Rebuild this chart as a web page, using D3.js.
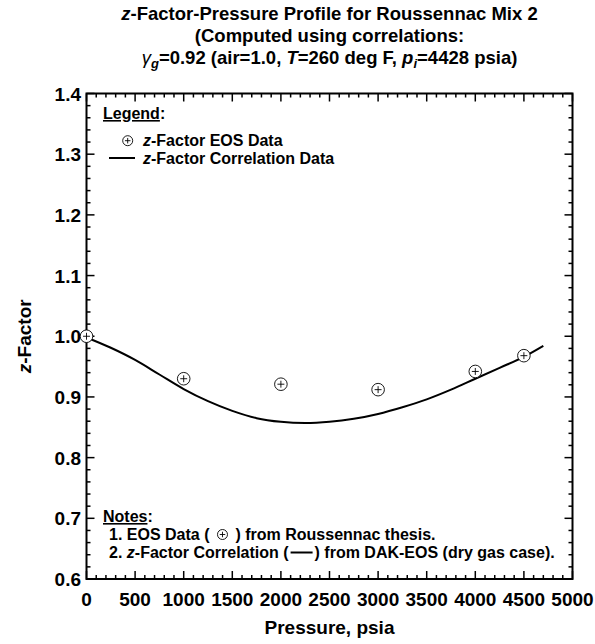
<!DOCTYPE html>
<html>
<head>
<meta charset="utf-8">
<script src="https://cdn.jsdelivr.net/npm/d3@7/dist/d3.min.js"></script>
<style>
  html, body { margin: 0; padding: 0; background: #fff; }
  svg { display: block; font-family: "Liberation Sans", Arial, Helvetica, sans-serif; }
</style>
</head>
<body>
<svg id="chart" width="595" height="644"></svg>
<script>
// EOS data points (pressure, psia / z-factor)
const eosPressure = [0, 1000, 2000, 3000, 4000, 4500];
const eosZ = [1.000, 0.930, 0.921, 0.912, 0.942, 0.968];

// Correlation curve (DAK-EOS, dry gas case)
const corrPressure = [0, 250, 500, 750, 1000, 1250, 1500, 1750, 2000, 2250, 2500, 2750, 3000, 3250, 3500, 3750, 4000, 4250, 4500, 4700];
const corrZ = [0.998, 0.981, 0.961, 0.937, 0.913, 0.893, 0.877, 0.865, 0.859, 0.857, 0.859, 0.864, 0.872, 0.883, 0.896, 0.912, 0.930, 0.948, 0.966, 0.984];

// Axis tick values
const xTicks = [0, 500, 1000, 1500, 2000, 2500, 3000, 3500, 4000, 4500, 5000];
const yTicks = [0.6, 0.7, 0.8, 0.9, 1.0, 1.1, 1.2, 1.3, 1.4];

const svg = d3.select("#chart");
const plotL = 86.5, plotR = 572.5, plotT = 93.5, plotB = 579;

const x = d3.scaleLinear().domain([0, 5000]).range([plotL, plotR]);
const y = d3.scaleLinear().domain([0.6, 1.4]).range([plotB, plotT]);

// ---- Title ----
const title = svg.append("g").attr("font-weight", "bold").attr("font-size", 18.5).attr("text-anchor", "middle");
const tx = (plotL + plotR) / 2;
const t1 = title.append("text").attr("x", tx).attr("y", 20);
t1.append("tspan").attr("font-style", "italic").text("z");
t1.append("tspan").text("-Factor-Pressure Profile for Roussennac Mix 2");
title.append("text").attr("x", tx).attr("y", 42).text("(Computed using correlations:");
const t3 = title.append("text").attr("x", tx).attr("y", 64);
t3.append("tspan").attr("font-style", "italic").attr("font-weight", "normal").text("γ");
t3.append("tspan").attr("font-style", "italic").attr("font-size", 13).attr("dy", 4).text("g");
t3.append("tspan").attr("dy", -4).text("=0.92 (air=1.0, ");
t3.append("tspan").attr("font-style", "italic").text("T");
t3.append("tspan").text("=260 deg F, ");
t3.append("tspan").attr("font-style", "italic").text("p");
t3.append("tspan").attr("font-style", "italic").attr("font-size", 13).attr("dy", 4).text("i");
t3.append("tspan").attr("dy", -4).text("=4428 psia)");

// ---- Ticks (inside, on all four sides) ----
const ticks = svg.append("g").attr("stroke", "#000").attr("stroke-width", 1.5);
const xMinor = d3.range(0, 5001, 100);
const yMinor = d3.range(0, 41).map(i => 0.6 + i * 0.02);
xMinor.forEach(v => {
  const len = v % 500 === 0 ? 8 : 4;
  ticks.append("line").attr("x1", x(v)).attr("x2", x(v)).attr("y1", plotB).attr("y2", plotB - len);
  ticks.append("line").attr("x1", x(v)).attr("x2", x(v)).attr("y1", plotT).attr("y2", plotT + len);
});
yMinor.forEach((v, i) => {
  const len = i % 5 === 0 ? 8 : 4;
  ticks.append("line").attr("y1", y(v)).attr("y2", y(v)).attr("x1", plotL).attr("x2", plotL + len);
  ticks.append("line").attr("y1", y(v)).attr("y2", y(v)).attr("x1", plotR).attr("x2", plotR - len);
});

// Frame
svg.append("rect").attr("x", plotL).attr("y", plotT).attr("width", plotR - plotL).attr("height", plotB - plotT)
  .attr("fill", "none").attr("stroke", "#000").attr("stroke-width", 2);

// Tick labels
const tl = svg.append("g").attr("font-weight", "bold").attr("font-size", 19);
xTicks.forEach(v => {
  tl.append("text").attr("x", x(v)).attr("y", 606).attr("text-anchor", "middle").text(v);
});
yTicks.forEach(v => {
  tl.append("text").attr("x", 81).attr("y", y(v) + 7).attr("text-anchor", "end").text(d3.format(".1f")(v));
});

// Axis titles
svg.append("text").attr("x", tx).attr("y", 634).attr("text-anchor", "middle")
  .attr("font-weight", "bold").attr("font-size", 19).text("Pressure, psia");
const yl = svg.append("text").attr("transform", `translate(31,${(plotT + plotB) / 2}) rotate(-90)`)
  .attr("text-anchor", "middle").attr("font-weight", "bold").attr("font-size", 19);
yl.append("tspan").attr("font-style", "italic").text("z");
yl.append("tspan").text("-Factor");

// ---- Correlation curve ----
const line = d3.line().x(d => x(d[0])).y(d => y(d[1])).curve(d3.curveMonotoneX);
svg.append("path").datum(corrPressure.map((p, i) => [p, corrZ[i]]))
  .attr("d", line).attr("fill", "none").attr("stroke", "#000").attr("stroke-width", 2);

// ---- EOS markers ----
function marker(g, cx, cy, r) {
  const m = g.append("g").attr("transform", `translate(${cx},${cy})`);
  m.append("circle").attr("r", r).attr("fill", "#fff").attr("stroke", "#000").attr("stroke-width", 0.9);
  const a = r * 0.55;
  m.append("line").attr("x1", -a).attr("x2", a).attr("stroke", "#000").attr("stroke-width", 0.9);
  m.append("line").attr("y1", -a).attr("y2", a).attr("stroke", "#000").attr("stroke-width", 0.9);
}
const pts = svg.append("g");
eosPressure.forEach((p, i) => marker(pts, x(p), y(eosZ[i]), 6.3));

// ---- Legend ----
const lg = svg.append("g").attr("font-weight", "bold").attr("font-size", 16);
const lh = lg.append("text").attr("x", 103).attr("y", 119);
lh.append("tspan").attr("text-decoration", "underline").text("Legend");
lh.append("tspan").text(":");
marker(lg, 127.7, 140.7, 5);
const l1 = lg.append("text").attr("x", 143).attr("y", 146);
l1.append("tspan").attr("font-style", "italic").text("z");
l1.append("tspan").text("-Factor EOS Data");
lg.append("line").attr("x1", 109).attr("x2", 135).attr("y1", 158).attr("y2", 158).attr("stroke", "#000").attr("stroke-width", 2);
const l2 = lg.append("text").attr("x", 143).attr("y", 164);
l2.append("tspan").attr("font-style", "italic").text("z");
l2.append("tspan").text("-Factor Correlation Data");

// ---- Notes ----
const nt = svg.append("g").attr("font-weight", "bold").attr("font-size", 16);
const nh = nt.append("text").attr("x", 103).attr("y", 522);
nh.append("tspan").attr("text-decoration", "underline").text("Notes");
nh.append("tspan").text(":");
const n1a = nt.append("text").attr("x", 109).attr("y", 540).text("1. EOS Data (");
let w = n1a.node().getComputedTextLength();
marker(nt, 109 + w + 13, 534.5, 5);
nt.append("text").attr("x", 109 + w + 26).attr("y", 540).text(") from Roussennac thesis.");
const n2a = nt.append("text").attr("x", 109).attr("y", 558);
n2a.append("tspan").text("2. ");
n2a.append("tspan").attr("font-style", "italic").text("z");
n2a.append("tspan").text("-Factor Correlation (");
w = n2a.node().getComputedTextLength();
nt.append("line").attr("x1", 109 + w + 2).attr("x2", 109 + w + 24).attr("y1", 552.5).attr("y2", 552.5)
  .attr("stroke", "#000").attr("stroke-width", 2);
nt.append("text").attr("x", 109 + w + 26).attr("y", 558).text(") from DAK-EOS (dry gas case).");
</script>
</body>
</html>
